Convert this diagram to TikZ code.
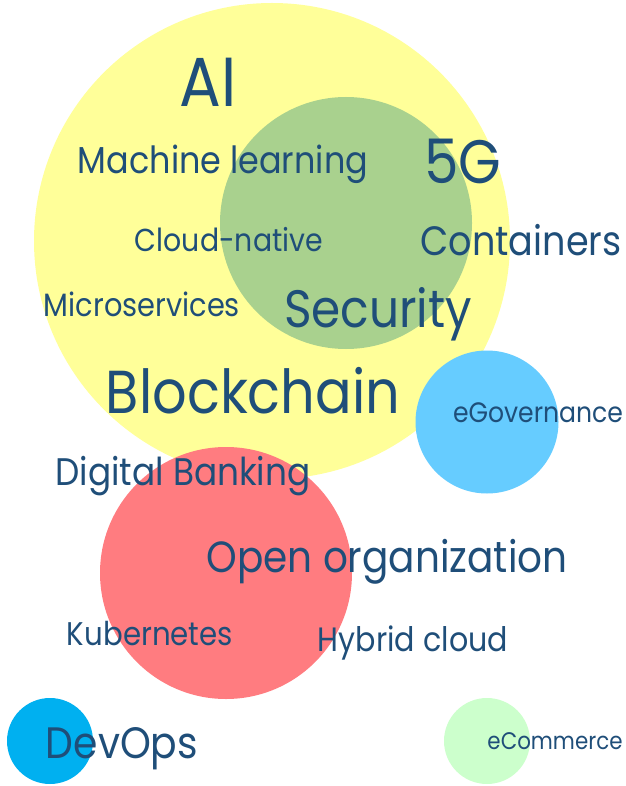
\documentclass[tikz,border=0pt]{standalone}
\usepackage{fontspec}
\setmainfont{Poppins}
\usepackage{graphicx}
\definecolor{txt}{RGB}{31,78,121}
\definecolor{cyel}{RGB}{255,255,153}
\definecolor{cgrn}{RGB}{169,209,142}
\definecolor{cblu}{RGB}{102,204,255}
\definecolor{cred}{RGB}{255,124,128}
\definecolor{cdev}{RGB}{0,176,240}
\definecolor{ccom}{RGB}{204,255,204}
\newcommand{\fitw}[2]{\scalebox{1}[1.12]{\resizebox{#1pt}{!}{#2}}}
\begin{document}
\begin{tikzpicture}[x=1pt,y=-1pt,
  lbl/.style={inner sep=0pt,text=txt,anchor=center},
  bub/.style={draw=none}]
\useasboundingbox (0,0) rectangle (625,786);
\fill[cyel] (272,241) circle (238);
\fill[cgrn] (346,223) circle (126);
\fill[cblu] (487,422) circle (71.5);
\fill[cred] (226,573) circle (126);
\fill[cdev] (50,741) circle (43);
\fill[ccom] (487,741) circle (43);
\node[lbl] (ai) at (208,82) {\fitw{57}{AI}};
\node[lbl] (ml) at (223,164) {\fitw{290}{Machine learning}};
\node[lbl] (fg) at (463,161) {\fitw{77}{5G}};
\node[lbl] (cn) at (229,240) {\fitw{188}{Cloud-native}};
\node[lbl] (ct) at (521,240) {\fitw{201}{Containers}};
\node[lbl] (ms) at (142,304) {\fitw{196}{Microservices}};
\node[lbl] (se) at (378,314) {\fitw{188}{Security}};
\node[lbl] (bc) at (253,391) {\fitw{294}{Blockchain}};
\node[lbl] (eg) at (538,413) {\fitw{170}{eGovernance}};
\node[lbl] (db) at (183,476) {\fitw{255}{Digital Banking}};
\node[lbl] (oo) at (387,562) {\fitw{361}{Open organization}};
\node[lbl] (ku) at (150,634) {\fitw{166}{Kubernetes}};
\node[lbl] (hc) at (413,643) {\fitw{190}{Hybrid cloud}};
\node[lbl] (dv) at (122,749) {\fitw{152}{DevOps}};
\node[lbl] (ec) at (555,741) {\fitw{135}{eCommerce}};
\end{tikzpicture}
\end{document}
